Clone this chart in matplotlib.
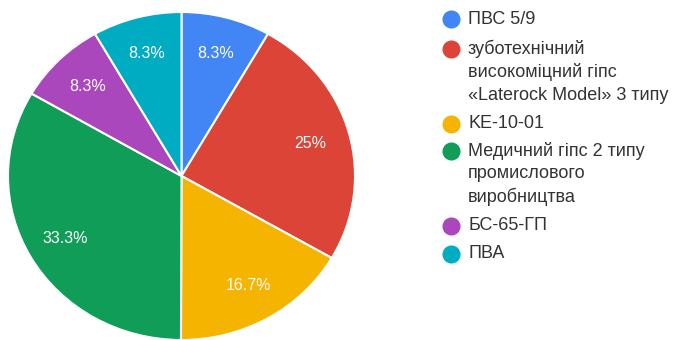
import matplotlib
matplotlib.use("Agg")
import matplotlib.pyplot as plt

plt.rcParams["font.family"] = ["Liberation Sans", "DejaVu Sans"]

# Materials and their shares (percent)
materials = [
    "ПВС 5/9",
    "зуботехнічний\nвисокоміцний гіпс\n«Laterock Model» 3 типу",
    "KE-10-01",
    "Медичний гіпс 2 типу\nпромислового\nвиробництва",
    "БС-65-ГП",
    "ПВА",
]
shares = [8.3, 25, 16.7, 33.3, 8.3, 8.3]
colors = ["#4285F4", "#DB4437", "#F4B400", "#0F9D58", "#AB47BC", "#00ACC1"]

W, H = 673, 340
fig = plt.figure(figsize=(W / 100, H / 100), dpi=100)

# Pie axes (slightly wider than tall)
ax = fig.add_axes([8 / W, 0 / H, 347 / W, 328 / H])
wedges, texts = ax.pie(
    shares,
    colors=colors,
    startangle=90,
    counterclock=False,
    labels=[f"{v:g}%" for v in shares],
    labeldistance=0.77,
    wedgeprops=dict(edgecolor="white", linewidth=1.5),
    textprops=dict(color="white", fontsize=11.5, ha="center", va="center"),
)
ax.set_aspect("auto")
ax.set_xlim(-1.0, 1.0)
ax.set_ylim(-1.0, 1.0)

# Legend drawn in pixel coordinates on an overlay axes
lg = fig.add_axes([0, 0, 1, 1])
lg.set_xlim(0, W)
lg.set_ylim(H, 0)
lg.axis("off")
legend_rows = [19, 49, 124, 151, 226, 254]
line_step = 23
for name, col, y in zip(materials, colors, legend_rows):
    lg.plot(451, y, "o", ms=12, color=col, mec=col)
    for i, line in enumerate(name.split("\n")):
        lg.text(468, y + i * line_step, line, fontsize=13,
                color="#333333", ha="left", va="center")

fig.savefig("out.png", dpi=100, facecolor="white")
